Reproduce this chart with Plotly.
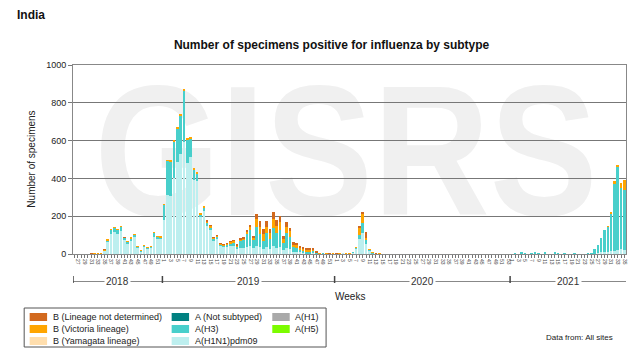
import base64
import plotly.graph_objects as go

# ---------------- data ----------------
years = [2018] * 27 + [2019] * 52 + [2020] * 53 + [2021] * 35
weeks = list(range(26, 53)) + list(range(1, 53)) + list(range(1, 54)) + list(range(1, 36))

h1n1_2018 = [0, 0, 0, 0, 0, 0, 1, 2, 1, 18, 62, 105, 118, 108, 122, 76, 58, 74, 88, 34, 15, 40, 30, 34, 92, 80, 78]
h3_2018 = [0, 0, 0, 0, 0, 0, 0, 0, 0, 3, 12, 22, 20, 19, 22, 10, 8, 10, 13, 5, 2, 5, 4, 4, 20, 12, 11]
bvic_2018 = [0, 0, 0, 0, 0, 2, 1, 1, 1, 1, 1, 1, 2, 1, 2, 1, 1, 1, 1, 1, 1, 1, 1, 1, 2, 1, 1]
blnd_2018 = [0, 0, 0, 0, 0, 3, 0, 0, 0, 1, 0, 0, 0, 0, 0, 1, 0, 0, 0, 0, 0, 0, 0, 0, 0, 0, 0]

h1n1_2019 = [180, 310, 305, 400, 488, 530, 595, 482, 515, 390, 385, 195, 225, 150, 130, 70, 80, 45, 38, 40,
             42, 40, 26, 30, 30, 35, 40, 30, 40, 35, 25, 35, 25, 40, 30, 35, 20, 30, 25, 12,
             10, 8, 7, 5, 5, 5, 2, 1, 1, 0, 0, 1]
h3_2019 = [80, 184, 187, 195, 178, 205, 272, 125, 95, 55, 40, 15, 22, 15, 10, 10, 10, 6, 6, 10,
           16, 22, 16, 44, 46, 70, 85, 45, 105, 70, 45, 75, 55, 95, 80, 90, 40, 80, 65, 25,
           22, 15, 14, 10, 10, 11, 5, 1, 1, 1, 0, 0]
bvic_2019 = [2, 2, 2, 3, 4, 8, 3, 6, 7, 5, 5, 6, 8, 9, 9, 7, 7, 6, 5, 6,
             7, 7, 5, 5, 6, 12, 18, 10, 40, 38, 35, 35, 30, 50, 40, 45, 20, 35, 30, 14,
             14, 12, 10, 9, 9, 8, 3, 1, 0, 1, 1, 1]
blnd_2019 = [0, 0, 0, 0, 0, 0, 0, 0, 0, 0, 0, 0, 0, 1, 1, 1, 1, 1, 1, 2,
             2, 3, 3, 4, 4, 8, 12, 8, 29, 30, 27, 28, 22, 36, 28, 30, 13, 23, 17, 10,
             11, 8, 8, 6, 6, 6, 2, 0, 0, 0, 1, 0]

h1n1_2020 = [0, 1, 1, 1, 3, 8, 28, 78, 110, 55, 18, 5, 1, 1] + [0] * 39
h3_2020 = [0, 0, 0, 0, 0, 2, 5, 23, 53, 20, 5, 2, 0, 0] + [0] * 39
bvic_2020 = [2, 1, 0, 2, 1, 0, 2, 40, 50, 10, 2, 1, 2, 1] + [0] * 39
blnd_2020 = [1, 0, 0, 0, 0, 0, 0, 2, 8, 29, 0, 0, 1, 0] + [0] * 39

h1n1_2021 = [0, 2, 0, 3, 1, 0, 2, 3, 2, 0, 2, 0, 0, 3, 1, 0, 1, 0, 0, 1,
             0, 0, 0, 0, 1, 2, 4, 8, 10, 12, 15, 18, 20, 25, 20]
h3_2021 = [0, 2, 0, 3, 2, 0, 3, 7, 3, 0, 4, 0, 0, 5, 2, 0, 2, 0, 0, 3,
           0, 0, 0, 1, 3, 25, 46, 78, 118, 132, 200, 355, 440, 322, 318]
bvic_2021 = [0] * 29 + [2, 8, 11, 13, 28, 55]
blnd_2021 = [0] * 35

h1n1 = h1n1_2018 + h1n1_2019 + h1n1_2020 + h1n1_2021
h3 = h3_2018 + h3_2019 + h3_2020 + h3_2021
b_vic = bvic_2018 + bvic_2019 + bvic_2020 + bvic_2021
b_lnd = blnd_2018 + blnd_2019 + blnd_2020 + blnd_2021
n = len(weeks)
b_yam = [0] * n
a_ns = [0] * n
a_h1 = [0] * n
a_h5 = [0] * n

year_labels = ["2018", "2019", "2020", "2021"]
y_ticks = [0, 200, 400, 600, 800, 1000]

# ---------------- figure ----------------
idx = list(range(n))
FONT = "Liberation Sans, Arial, sans-serif"

C = {
    "B (Lineage not determined)": "#D2691E",
    "B (Victoria lineage)": "#FFA500",
    "B (Yamagata lineage)": "#FFDEAD",
    "A (Not subtyped)": "#008080",
    "A(H3)": "#48CFCB",
    "A(H1N1)pdm09": "#BDEFEF",
    "A(H1)": "#A9A9A9",
    "A(H5)": "#7CFC00",
}

# stacking order bottom -> top
stack = [
    ("A(H1N1)pdm09", h1n1),
    ("A(H3)", h3),
    ("A (Not subtyped)", a_ns),
    ("A(H1)", a_h1),
    ("A(H5)", a_h5),
    ("B (Yamagata lineage)", b_yam),
    ("B (Victoria lineage)", b_vic),
    ("B (Lineage not determined)", b_lnd),
]

fig = go.Figure()
for name, vals in stack:
    fig.add_trace(go.Bar(
        x=idx, y=vals, name=name, marker_color=C[name], marker_line_width=0,
        showlegend=False, hovertemplate="%{y}<extra>" + name + "</extra>",
    ))

ticktext = [str(w) if w % 2 == 1 else "" for w in weeks]

# page has an 8px body margin: figure is 632x347, plot area lands at page x 73..628, y 65..254
fig.update_layout(
    width=632, height=347,
    margin=dict(l=65, r=12, t=57, b=101),
    barmode="stack", bargap=0.22,
    paper_bgcolor="white", plot_bgcolor="rgba(0,0,0,0)",
    font=dict(family=FONT, size=9, color="#222"),
    title=dict(text="<b>Number of specimens positive for influenza by subtype</b>",
               x=0.512, xanchor="center", y=1 - 37 / 347, yanchor="middle",
               font=dict(size=12, color="#111", family=FONT)),
    xaxis=dict(range=[-0.5, n - 0.5], tickmode="array", tickvals=idx, ticktext=ticktext,
               tickangle=90, tickfont=dict(size=5, color="#444"), ticks="outside", ticklen=3,
               tickcolor="#777", showgrid=False, showline=True, linecolor="#888", linewidth=1,
               mirror=True, zeroline=False, fixedrange=True),
    yaxis=dict(range=[0, 1000], tickvals=y_ticks, ticks="outside", ticklen=4, tickcolor="#777",
               showgrid=True, gridcolor="#777", gridwidth=1, showline=True, linecolor="#888",
               linewidth=1, mirror=True, zeroline=False, tickfont=dict(size=9, color="#222")),
    showlegend=False,
)


def px(x):
    return (x - 73) / 555.0


def py(y):
    return (254 - y) / 189.0


# manual legend (three columns)
columns = [
    (29.5, 47, 51, ["B (Lineage not determined)", "B (Victoria lineage)", "B (Yamagata lineage)"]),
    (172, 189.5, 193, ["A (Not subtyped)", "A(H3)", "A(H1N1)pdm09"]),
    (273, 290.5, 294, ["A(H1)", "A(H5)"]),
]
rows_y = [317, 329, 341]
for sx0, sx1, tx, names in columns:
    for r, name in enumerate(names):
        yc = rows_y[r]
        fig.add_shape(type="rect", xref="paper", yref="paper", x0=px(sx0), x1=px(sx1),
                      y0=py(yc + 4), y1=py(yc - 4), line=dict(width=0), fillcolor=C[name])
        fig.add_annotation(x=px(tx), y=py(yc), xref="paper", yref="paper", text=name,
                           xanchor="left", yanchor="middle", showarrow=False,
                           font=dict(size=9, color="#222"))
fig.add_shape(type="rect", xref="paper", yref="paper", x0=px(24), x1=px(327), y0=py(347), y1=py(308),
              line=dict(color="#555", width=1), fillcolor="rgba(0,0,0,0)")

# year bracket line
bounds = [-0.5, 26.5, 78.5, 131.5, n - 0.5]
fig.add_shape(type="line", xref="x", yref="paper", x0=bounds[0], x1=bounds[-1], y0=py(281.5), y1=py(281.5),
              line=dict(color="#888", width=1))
for b in bounds[:-1]:
    fig.add_shape(type="line", xref="x", yref="paper", x0=b, x1=b, y0=py(276), y1=py(283),
                  line=dict(color="#444", width=1.5))
for i, lab in enumerate(year_labels):
    mid = (bounds[i] + bounds[i + 1]) / 2
    fig.add_annotation(x=mid, y=py(281.5), xref="x", yref="paper", text=lab, showarrow=False,
                       xanchor="center", yanchor="middle", bgcolor="white", borderpad=1,
                       font=dict(size=10, color="#333"))

fig.add_annotation(x=0.5, y=py(296), xref="paper", yref="paper", text="Weeks", showarrow=False,
                   xanchor="center", yanchor="middle", font=dict(size=10, color="#222"))
fig.add_annotation(x=px(31), y=0.5, xref="paper", yref="paper", text="Number of specimens",
                   textangle=-90, showarrow=False, xanchor="center", yanchor="middle",
                   font=dict(size=10, color="#222"))
fig.add_annotation(x=px(15), y=py(15), xref="paper", yref="paper", text="<b>India</b>",
                   xanchor="left", yanchor="middle", showarrow=False, font=dict(size=12, color="#111"))
fig.add_annotation(x=px(617), y=py(337), xref="paper", yref="paper", text="Data from: All sites",
                   xanchor="right", yanchor="middle", showarrow=False, font=dict(size=8, color="#222"))

# GISRS watermark behind the plot area
svg = ("<svg xmlns='http://www.w3.org/2000/svg' width='555' height='189' viewBox='0 0 555 189'>"
       "<text x='274' y='150' font-family='Liberation Sans, Arial, sans-serif' font-weight='bold' "
       "font-size='185' text-anchor='middle' fill='#f0f0f0' textLength='505' "
       "lengthAdjust='spacingAndGlyphs'>GISRS</text></svg>")
src = "data:image/svg+xml;base64," + base64.b64encode(svg.encode()).decode()
fig.add_layout_image(source=src, xref="paper", yref="paper", x=0, y=1, sizex=1, sizey=1,
                     xanchor="left", yanchor="top", sizing="stretch", layer="below")

fig.write_html("out.html")
